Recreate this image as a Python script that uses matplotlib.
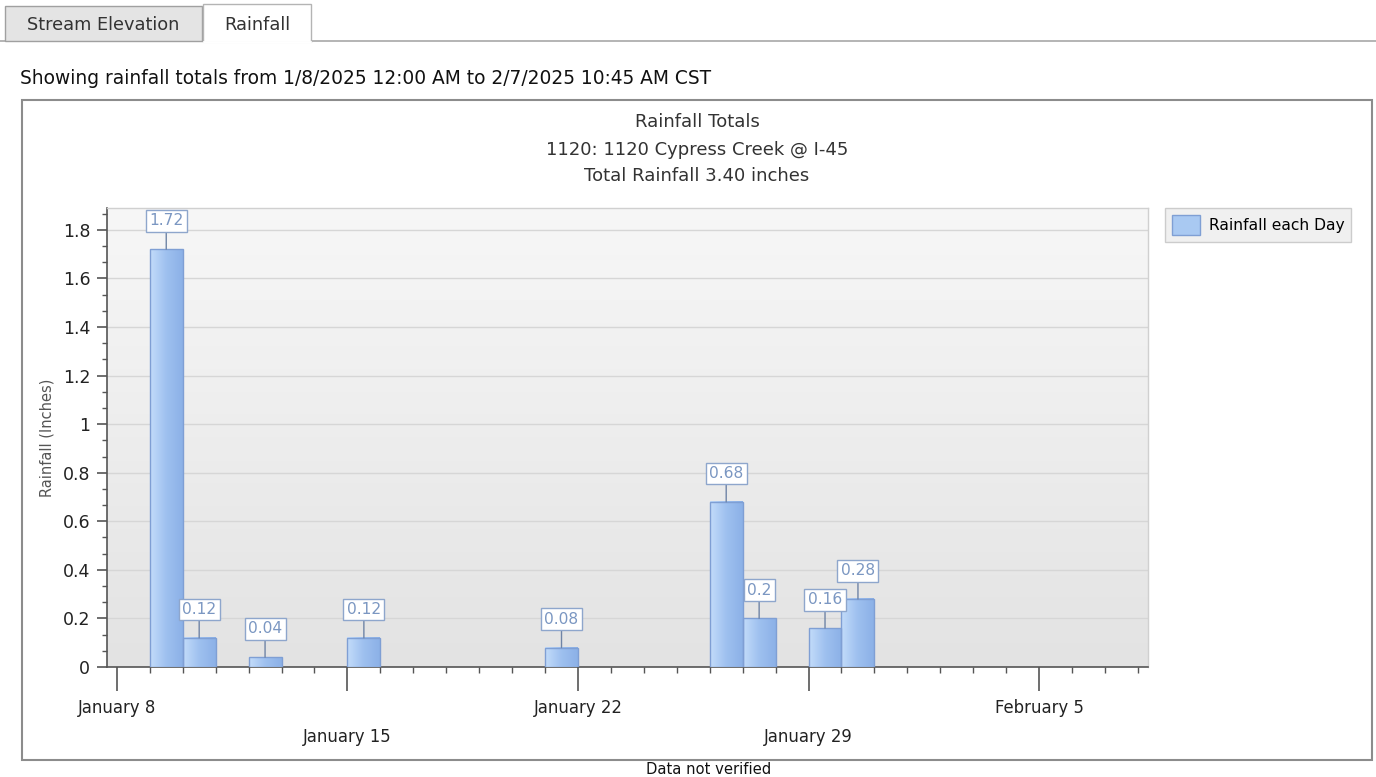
import numpy as np
import matplotlib
matplotlib.use("Agg")
import matplotlib.pyplot as plt
import matplotlib.dates as mdates
import matplotlib.transforms as mtransforms
from matplotlib.colors import LinearSegmentedColormap
from matplotlib.patches import Rectangle, Patch
from matplotlib.ticker import MultipleLocator, AutoMinorLocator, FuncFormatter

# dados
days = ["2025-01-09", "2025-01-10", "2025-01-12", "2025-01-15", "2025-01-21",
        "2025-01-26", "2025-01-27", "2025-01-29", "2025-01-30"]
rain = [1.72, 0.12, 0.04, 0.12, 0.08, 0.68, 0.2, 0.16, 0.28]
bar_labels = ["1.72", "0.12", "0.04", "0.12", "0.08", "0.68", "0.2", "0.16", "0.28"]
major_days = ["2025-01-08", "2025-01-15", "2025-01-22", "2025-01-29", "2025-02-05"]
major_labels = ["January 8", "January 15", "January 22", "January 29", "February 5"]
x_range = ["2025-01-07 16:50", "2025-02-08 07:20"]
y_max = 1.89

title_lines = ["Rainfall Totals", "1120: 1120 Cypress Creek @ I-45", "Total Rainfall 3.40 inches"]
subtitle = "Showing rainfall totals from 1/8/2025 12:00 AM to 2/7/2025 10:45 AM CST"

W, H = 1376, 777
fig = plt.figure(figsize=(W / 100, H / 100), dpi=100)

# camada de fundo em pixels
bg = fig.add_axes([0, 0, 1, 1])
bg.set_xlim(0, W)
bg.set_ylim(H, 0)
bg.axis("off")

# abas
bg.plot([0, W], [41, 41], color="#a8a8a8", lw=1.2, zorder=1)
bg.add_patch(Rectangle((5, 6), 197, 35, fc="#e4e4e4", ec="#a0a0a0", lw=1, zorder=2))
bg.add_patch(Rectangle((203, 4), 108, 38, fc="white", ec="#b4b4b4", lw=1, zorder=2))
bg.plot([204, 310], [41.5, 41.5], color="white", lw=2, zorder=3)
bg.text(103, 25, "Stream Elevation", ha="center", va="center", fontsize=12.8, color="#333333")
bg.text(257, 25, "Rainfall", ha="center", va="center", fontsize=12.8, color="#333333")

bg.text(20, 78, subtitle, ha="left", va="center", fontsize=13.4, color="#111111")

# painel do grafico
bg.add_patch(Rectangle((22, 100), 1350, 660, fc="white", ec="#8c8c8c", lw=1.5, zorder=0))
for yy, line in zip([122, 150, 176], title_lines):
    bg.text(697, yy, line, ha="center", va="center", fontsize=13, color="#333333")
bg.text(709, 770, "Data not verified", ha="center", va="center", fontsize=10.6, color="#111111")

# area do grafico
L, R, T, B = 107, 1148, 208, 667
ax = fig.add_axes([L / W, 1 - B / H, (R - L) / W, (B - T) / H])

grad = np.linspace(0, 1, 256).reshape(-1, 1)
bg_cmap = LinearSegmentedColormap.from_list("bgc", ["#f7f7f7", "#e3e3e3"])
ax.imshow(grad, cmap=bg_cmap, extent=(0, 1, 0, 1), transform=ax.transAxes,
          aspect="auto", zorder=0)

xd = mdates.datestr2num(days)
bars = ax.bar(xd, rain, width=1.0, align="edge", facecolor="none",
              edgecolor="#7f9fd4", linewidth=1, zorder=4)

bar_cmap = LinearSegmentedColormap.from_list("barc", ["#c3dcfa", "#9ec0ef", "#8cb1e7"])
hgrad = np.linspace(0, 1, 64).reshape(1, -1)
for b in bars:
    x0, w, h = b.get_x(), b.get_width(), b.get_height()
    ax.imshow(hgrad, cmap=bar_cmap, extent=(x0, x0 + w, 0, h), aspect="auto",
              zorder=3, interpolation="bilinear")

for b, lab in zip(bars, bar_labels):
    cx = b.get_x() + b.get_width() / 2
    ax.annotate(lab, xy=(cx, b.get_height()), xytext=(0, 15), textcoords="offset points",
                ha="center", va="bottom", fontsize=11.2, color="#7b97c2", zorder=6,
                bbox=dict(boxstyle="square,pad=0.22", fc="white", ec="#8ea6cc", lw=1),
                arrowprops=dict(arrowstyle="-", color="#6f84a6", lw=1, shrinkA=0, shrinkB=0))

ax.set_xlim(mdates.datestr2num(x_range[0]), mdates.datestr2num(x_range[1]))
ax.set_ylim(0, y_max)

ax.set_xticks(mdates.datestr2num(major_days))
ax.set_xticklabels([])
ax.xaxis.set_minor_locator(mdates.DayLocator())
ax.tick_params(axis="x", which="major", length=17, width=1.2, color="#555555")
ax.tick_params(axis="x", which="minor", length=4, width=1, color="#555555")

trans = mtransforms.blended_transform_factory(ax.transData, ax.transAxes)
for i, (d, lab) in enumerate(zip(major_days, major_labels)):
    yy = -0.089 if i % 2 == 0 else -0.152
    ax.text(mdates.datestr2num(d), yy, lab, transform=trans, ha="center", va="center",
            fontsize=11.9, color="#222222")

ax.yaxis.set_major_locator(MultipleLocator(0.2))
ax.yaxis.set_minor_locator(AutoMinorLocator(3))
ax.yaxis.set_major_formatter(FuncFormatter(lambda v, p: "%g" % round(v, 2)))
ax.tick_params(axis="y", which="major", length=7, width=1.2, color="#555555",
               labelsize=12.5, labelcolor="#222222", pad=5)
ax.tick_params(axis="y", which="minor", length=3.5, width=1, color="#555555")

ax.yaxis.grid(True, color="#d6d6d6", lw=1)
ax.set_axisbelow(True)

ax.set_ylabel("Rainfall (Inches)", fontsize=10.5, color="#555555")
ax.yaxis.set_label_coords((54 - L) / (R - L), 0.5)

for s in ["left", "bottom"]:
    ax.spines[s].set_color("#555555")
    ax.spines[s].set_linewidth(1.2)
for s in ["top", "right"]:
    ax.spines[s].set_color("#d0d0d0")
    ax.spines[s].set_linewidth(1)

handle = Patch(facecolor="#a9c9f2", edgecolor="#7f9fd4")
fig.legend([handle], ["Rainfall each Day"], loc="upper left",
           bbox_to_anchor=(1165 / W, 1 - 208 / H), frameon=True, fancybox=False,
           edgecolor="#cccccc", facecolor="#f0f0f0", framealpha=1, fontsize=11.2,
           handlelength=1.8, handleheight=1.6, borderpad=0.45, handletextpad=0.55,
           borderaxespad=0)

fig.savefig("out.png", dpi=100)
